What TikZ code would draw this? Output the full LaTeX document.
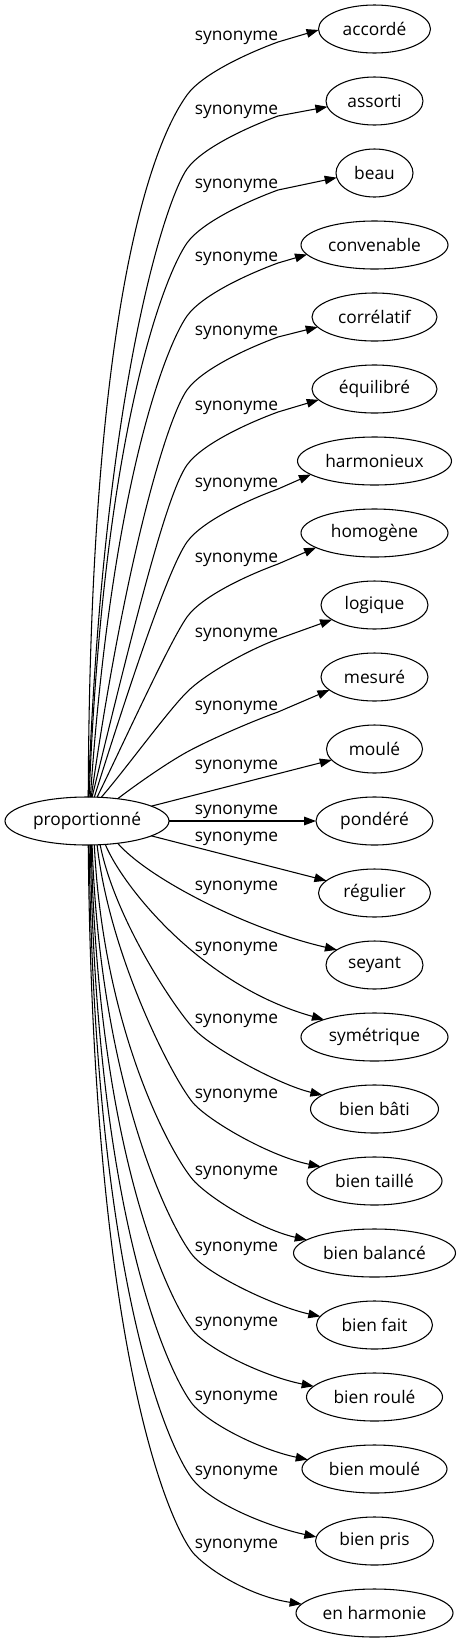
\documentclass[tikz,border=0pt]{standalone}
\usepackage{fontspec}
\setmainfont{Open Sans}
\usetikzlibrary{shapes.geometric,arrows.meta}
\begin{document}
\begin{tikzpicture}[x=0.75pt,y=-0.75pt,
  every node/.style={font=\fontsize{13}{15}\selectfont},
  nd/.style={ellipse,draw,line width=0.8pt,inner sep=0pt,outer sep=0pt,minimum height=36pt,minimum width=#1*0.75pt},
  lbl/.style={anchor=base,inner sep=0pt},
  edge/.style={line width=0.8pt,-{Triangle[length=9pt,width=6.5pt]}}]
\useasboundingbox (0,0) rectangle (460,1643);
\node[nd=164] (src) at (87,821) {proportionné};
\node[nd=112] (t0) at (374.5,29) {accordé};
\node[nd=97] (t1) at (374.5,101) {assorti};
\node[nd=77] (t2) at (374.5,173) {beau};
\node[nd=147] (t3) at (374.5,245) {convenable};
\node[nd=125] (t4) at (374.5,317) {corrélatif};
\node[nd=125] (t5) at (374.5,389) {équilibré};
\node[nd=154] (t6) at (374.5,461) {harmonieux};
\node[nd=147] (t7) at (374.5,533) {homogène};
\node[nd=107] (t8) at (374.5,605) {logique};
\node[nd=107] (t9) at (374.5,677) {mesuré};
\node[nd=96] (t10) at (374.5,749) {moulé};
\node[nd=117] (t11) at (374.5,821) {pondéré};
\node[nd=112] (t12) at (374.5,893) {régulier};
\node[nd=97] (t13) at (374.5,965) {seyant};
\node[nd=147] (t14) at (374.5,1037) {symétrique};
\node[nd=128] (t15) at (374.5,1109) {bien bâti};
\node[nd=135] (t16) at (374.5,1181) {bien taillé};
\node[nd=162] (t17) at (374.5,1253) {bien balancé};
\node[nd=116] (t18) at (374.5,1325) {bien fait};
\node[nd=136] (t19) at (374.5,1397) {bien roulé};
\node[nd=145] (t20) at (374.5,1469) {bien moulé};
\node[nd=118] (t21) at (374.5,1541) {bien pris};
\node[nd=157] (t22) at (374.5,1613) {en harmonie};
\foreach \y [count=\i from 0] in {35,109,183,256,330,405,482,557,632,705,764,809,836,885,946,1018,1093,1170,1246,1321,1395,1470,1543}
  \node[lbl] (l\i) at (236.5,\y+5) {synonyme};
% upper edges: source .. bend .. under label end -- target
\draw[edge] (src.87.6) .. controls (90,250) and (167,123) .. (187,95) .. controls (202,74) and (248,53) .. (278,42) -- (t0.181);
\draw[edge] (src.87.6) .. controls (104,380) and (167,197) .. (187,169) .. controls (202,148) and (248,127) .. (278,116) -- (t1.187.3);
\draw[edge] (src.85.2) .. controls (104,420) and (167,271) .. (187,243) .. controls (202,222) and (248,201) .. (278,190) -- (t2.187.6);
\draw[edge] (src.82.9) .. controls (112,480) and (167,344) .. (187,316) .. controls (202,295) and (248,274) .. (278,263) -- (t3.188.5);
\draw[edge] (src.80.5) .. controls (125,560) and (167,418) .. (187,390) .. controls (202,369) and (248,348) .. (278,337) -- (t4.190);
\draw[edge] (src.78.2) .. controls (135,620) and (167,493) .. (187,465) .. controls (202,444) and (248,423) .. (278,412) -- (t5.191.2);
\draw[edge] (src.73.7) .. controls (125,700) and (167,570) .. (187,542) .. controls (202,521) and (248,500) .. (278,489) -- (t6.192);
\draw[edge] (src.67.2) .. controls (125,740) and (170,641) .. (187,617) .. controls (202,596) and (248,575) .. (278,564) -- (t7.194.7);
\draw[edge] (src.59.4) .. controls (125,770) and (167,712) .. (187,692) .. controls (205,674) and (248,650) .. (278,639) -- (t8.199.7);
\draw[edge] (src.36.6) .. controls (137,784) and (167,763) .. (187,752) .. controls (207,741) and (250,722) .. (278,712) -- (t9.196.1);
% straight edges
\draw[edge] (src.13.7) -- (t10);
\draw[edge] (src.east) -- (t11);
\draw[edge] (src.-13.7) -- (t12);
% lower edges: source .. under label start .. target
\draw[edge] (src.-36.6) .. controls (150,880) and (250,930) .. (t13.158.4);
\draw[edge] (src.-52.4) .. controls (122,885) and (200,985) .. (t14.161.9);
\draw[edge] (src.-61.3) .. controls (115,920) and (177,1012) .. (195,1030) .. controls (215,1050) and (280,1085) .. (t15.165);
\draw[edge] (src.-67.2) .. controls (110,960) and (177,1087) .. (195,1105) .. controls (215,1125) and (273,1157) .. (t16.165.7);
\draw[edge] (src.-73.7) .. controls (104,1040) and (177,1164) .. (195,1182) .. controls (215,1202) and (263,1230) .. (t17.169.2);
\draw[edge] (src.-78.2) .. controls (101,1100) and (177,1240) .. (195,1258) .. controls (215,1278) and (277,1307) .. (t18.171.7);
\draw[edge] (src.-80.5) .. controls (98,1170) and (177,1315) .. (195,1333) .. controls (215,1353) and (267,1377) .. (t19.170.8);
\draw[edge] (src.-82.9) .. controls (96,1240) and (177,1389) .. (195,1407) .. controls (215,1427) and (262,1450) .. (t20.172.4);
\draw[edge] (src.-85.2) .. controls (95,1310) and (177,1464) .. (195,1482) .. controls (215,1505) and (270,1527) .. (t21.176.1);
\draw[edge] (src.-87.6) .. controls (93,1380) and (177,1537) .. (195,1555) .. controls (215,1575) and (255,1597) .. (t22.173.8);
\end{tikzpicture}
\end{document}
